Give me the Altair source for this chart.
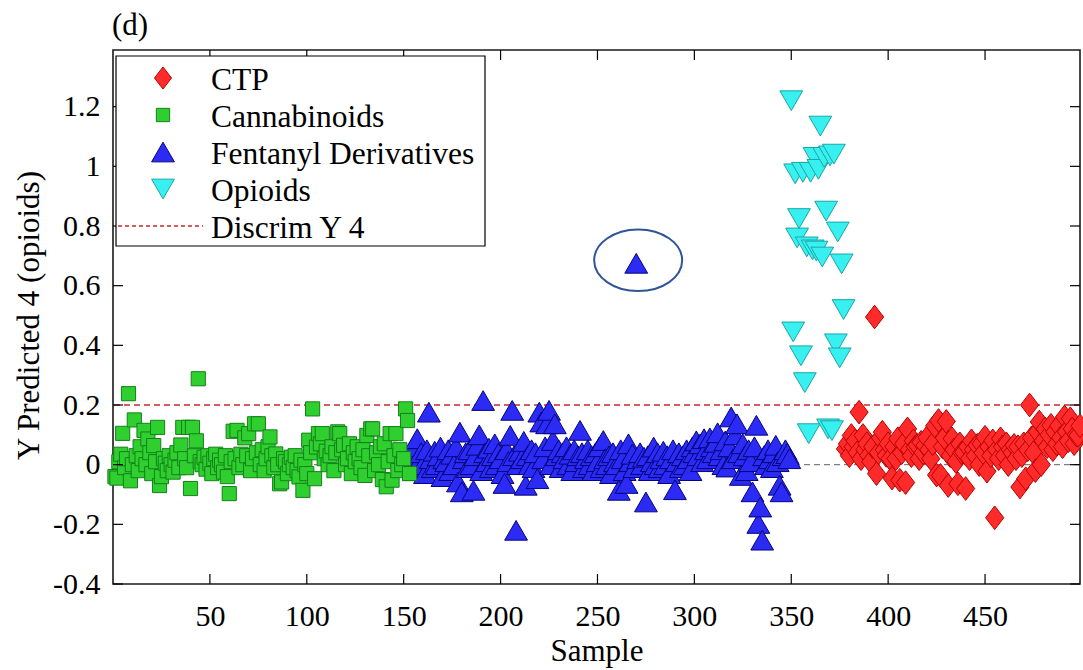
import altair as alt
import pandas as pd

SERIF = "Liberation Serif"

# ---- Y predicted 4 (opioids) per sample, by class block ----
cannabinoid_start = 1
cannabinoid_values = [
    -0.04, -0.045, 0.01, 0.035, 0.105, -0.01, 0.02, 0.238, -0.054, 0.0,
    0.15, 0.03, -0.02, 0.06, 0.02, 0.115, 0.0, 0.086, 0.04, -0.03,
    0.064, 0.01, 0.125, -0.07, -0.04, 0.02, 0.005, -0.02, 0.03, 0.0,
    -0.025, 0.015, 0.04, -0.01, 0.066, 0.125, 0.02, -0.01, 0.125, -0.08,
    0.125, 0.03, 0.08, 0.288, 0.01, 0.0, 0.025, -0.015, 0.03, 0.005,
    -0.03, 0.02, 0.035, -0.01, 0.015, 0.0, -0.025, 0.03, -0.04, -0.097,
    0.01, 0.112, 0.02, 0.115, -0.01, 0.035, 0.0, 0.09, 0.03, 0.104,
    -0.02, 0.02, 0.137, 0.04, 0.137, 0.0, 0.05, -0.02, 0.02, 0.06,
    0.093, 0.03, -0.01, 0.036, 0.0, -0.064, -0.058, 0.02, 0.01, -0.03,
    0.0, 0.025, -0.01, 0.03, -0.02, -0.041, 0.015, -0.086, 0.0, -0.03,
    0.082, 0.04, 0.187, -0.047, 0.059, 0.104, 0.07, 0.104, 0.02, 0.045,
    0.0, 0.03, 0.06, -0.02, 0.04, 0.11, 0.104, 0.05, 0.065, 0.0,
    0.02, 0.07, -0.03, 0.04, 0.01, 0.06, 0.02, -0.01, 0.05, -0.036,
    0.098, 0.03, 0.12, 0.12, -0.02, 0.04, 0.0, 0.06, -0.05, 0.07,
    -0.074, 0.01, 0.104, -0.052, 0.03, 0.104, -0.02, 0.05, 0.0, 0.02,
    0.187, 0.148, -0.03,
]

fentanyl_start = 154
fentanyl_values = [
    0.03, 0.06, -0.02, 0.087, 0.01, 0.04, 0.0, -0.03, 0.05, 0.176,
    0.02, -0.01, 0.045, 0.0, 0.03, 0.059, -0.04, 0.02, 0.01, 0.05,
    -0.02, 0.035, 0.0, 0.06, -0.058, 0.109, -0.091, 0.02, 0.04, -0.01,
    0.05, 0.0, -0.086, 0.03, 0.065, 0.1, -0.02, 0.215, 0.04, 0.01,
    0.055, -0.01, 0.03, 0.07, 0.0, 0.04, 0.02, -0.03, -0.063, 0.05,
    0.01, 0.098, 0.182, 0.03, -0.22, 0.0, 0.045, 0.02, 0.078, -0.069,
    0.03, 0.0, 0.05, -0.01, 0.04, -0.047, 0.176, 0.143, 0.02, 0.06,
    0.137, 0.182, 0.0, 0.081, 0.137, 0.03, 0.05, -0.01, 0.04, 0.02,
    0.06, 0.0, 0.035, -0.02, 0.05, 0.01, 0.03, 0.115, 0.04, -0.01,
    0.02, 0.05, 0.0, 0.03, -0.02, 0.04, 0.01, 0.06, -0.01, 0.081,
    0.02, 0.0, 0.03, -0.03, 0.04, 0.01, 0.0, -0.086, 0.05, 0.02,
    -0.02, -0.063, 0.07, 0.01, 0.035, -0.01, 0.675, 0.02, 0.04, 0.0,
    0.025, -0.125, 0.03, -0.02, 0.01, 0.059, 0.0, 0.04, -0.01, 0.02,
    0.045, 0.0, 0.03, -0.03, 0.02, 0.05, -0.084, 0.01, 0.04, -0.01,
    0.03, 0.0, 0.05, 0.02, -0.02, 0.06, 0.04, 0.08, 0.03, 0.07,
    0.01, 0.087, 0.05, 0.02, 0.09, 0.06, 0.04, 0.075, 0.107, 0.03,
    0.05, 0.0, 0.08, -0.008, 0.06, 0.16, 0.02, 0.1, 0.137, 0.04,
    -0.036, 0.07, 0.03, -0.02, 0.05, 0.01, -0.091, 0.06, 0.132, -0.197,
    -0.142, -0.253, 0.03, 0.0, 0.05, 0.02, -0.01, 0.04, 0.065, 0.01,
    -0.069, -0.091, 0.03, 0.05, 0.037, 0.02,
]

opioid_start = 350
opioid_values = [
    1.22, 0.445, 0.975, 0.76, 0.825, 0.365, 0.98, 0.275, 0.73, 0.104,
    0.98, 0.72, 1.03, 0.716, 0.99, 1.135, 0.696, 1.03, 0.85, 0.12,
    1.035, 0.114, 1.041, 0.405, 0.78, 0.358, 0.673, 0.52,
]

ctp_start = 378
ctp_values = [
    0.053, 0.07, 0.03, 0.098, 0.06, 0.08, 0.04, 0.176, 0.02, 0.098,
    0.05, 0.07, 0.031, 0.01, 0.06, 0.495, -0.03, 0.04, 0.09, 0.109,
    0.05, 0.031, 0.07, 0.02, -0.045, 0.06, 0.02, 0.087, -0.052, 0.04,
    0.07, -0.06, 0.12, 0.05, 0.03, 0.08, 0.06, 0.065, 0.02, 0.075,
    0.04, 0.065, 0.09, 0.05, 0.02, 0.07, 0.13, -0.035, 0.148, -0.036,
    0.06, 0.09, 0.145, -0.07, 0.03, 0.087, 0.05, 0.01, -0.064, 0.07,
    0.04, 0.042, -0.08, 0.06, 0.02, 0.08, 0.05, 0.03, 0.065, 0.0,
    0.07, 0.04, 0.092, -0.022, 0.06, 0.03, 0.08, -0.178, 0.05, 0.02,
    0.087, 0.06, 0.03, 0.07, 0.0, 0.05, 0.04, 0.065, 0.02, 0.06,
    -0.075, 0.03, 0.07, -0.047, 0.05, 0.2, 0.09, 0.04, -0.02, 0.11,
    0.143, 0.0, 0.08, 0.12, 0.06, 0.1, 0.132, 0.05, 0.11, 0.07,
    0.13, 0.09, 0.06, 0.16, 0.11, 0.08, 0.154, 0.12, 0.07, 0.1,
    0.098, 0.13,
]

# Class names (legend order) and marker styling
groups = ["CTP", "Cannabinoids", "Fentanyl Derivatives", "Opioids"]
fill_colors = ["#ff2b2b", "#2fcf2f", "#2b2bf5", "#38f0f0"]
edge_colors = ["#b80000", "#14801a", "#05057a", "#1aa6a6"]
diamond_path = "M0,-1.3L1,0L0,1.3L-1,0Z"
marker_shapes = [diamond_path, "square", "triangle-up", "triangle-down"]
marker_sizes = [330, 200, 520, 520]

# Reference levels
discrim_level = [0.2]
zero_level = [0.0]
discrim_label = "Discrim Y 4"

# Highlighted sample
highlight_sample = [271]
highlight_value = [0.685]

panel_label = "(d)"

x_tick_values = [50, 100, 150, 200, 250, 300, 350, 400, 450]
y_tick_values = [-0.4, -0.2, 0.0, 0.2, 0.4, 0.6, 0.8, 1.0, 1.2]
x_range = [0, 499]
y_range = [-0.4, 1.39]

W, H = 967, 534
TICK_LEN = 10


def block(start, values):
    return pd.DataFrame({
        "sample": list(range(start, start + len(values))),
        "value": values,
    })


blocks = {
    "CTP": block(ctp_start, ctp_values),
    "Cannabinoids": block(cannabinoid_start, cannabinoid_values),
    "Fentanyl Derivatives": block(fentanyl_start, fentanyl_values),
    "Opioids": block(opioid_start, opioid_values),
}

x_scale = alt.Scale(domain=x_range, nice=False, zero=False)
y_scale = alt.Scale(domain=y_range, nice=False, zero=False)

x_axis = alt.Axis(
    values=x_tick_values, title="Sample", ticks=False, domain=False, grid=False,
    labelFont=SERIF, labelFontSize=30, labelColor="black",
    labelBaseline="alphabetic", labelPadding=41, labelOverlap=False, labelFlush=False,
    titleFont=SERIF, titleFontSize=31, titleFontWeight="normal", titleColor="black",
    titleX=W / 2, titleY=76, titleBaseline="alphabetic", titleAlign="center",
)
y_axis = alt.Axis(
    values=y_tick_values, title="Y Predicted 4 (opioids)", ticks=False, domain=False,
    grid=False, labelFont=SERIF, labelFontSize=30, labelColor="black",
    labelPadding=13, labelOverlap=False, labelFlush=False,
    labelExpr="datum.value < 0 ? '-' + format(-datum.value, '~g') : format(datum.value, '~g')",
    titleFont=SERIF, titleFontSize=31, titleFontWeight="normal", titleColor="black",
    titleX=-75, titleY=265, titleAngle=270, titleBaseline="alphabetic", titleAlign="center",
)

x_enc = alt.X("sample:Q", scale=x_scale, axis=x_axis)
y_enc = alt.Y("value:Q", scale=y_scale, axis=y_axis)

# Reference lines
zero_line = alt.Chart(pd.DataFrame({"value": zero_level})).mark_rule(
    color="#7f7f7f", strokeWidth=1.4, strokeDash=[6, 4]
).encode(y=y_enc)

discrim_line = alt.Chart(pd.DataFrame({"value": discrim_level})).mark_rule(
    color="#c8282d", strokeWidth=1.4, strokeDash=[6, 4]
).encode(y=y_enc)

# One scatter layer per class, drawn in this order
draw_order = ["CTP", "Fentanyl Derivatives", "Cannabinoids", "Opioids"]
scatter_layers = []
for g in draw_order:
    i = groups.index(g)
    scatter_layers.append(
        alt.Chart(blocks[g]).mark_point(
            filled=True, opacity=1, strokeWidth=1, shape=marker_shapes[i],
            size=marker_sizes[i], fill=fill_colors[i], stroke=edge_colors[i]
        ).encode(x=x_enc, y=y_enc)
    )

# Ellipse drawn around the highlighted sample
ellipse_path = ("M-1,0C-1,-0.387,-0.552,-0.7,0,-0.7C0.552,-0.7,1,-0.387,1,0"
                "C1,0.387,0.552,0.7,0,0.7C-0.552,0.7,-1,0.387,-1,0Z")
highlight = alt.Chart(pd.DataFrame({"sample": highlight_sample, "value": highlight_value})).mark_point(
    shape=ellipse_path, size=88 * 88, filled=False, stroke="#2f5597", strokeWidth=2, opacity=1
).encode(x=x_enc, y=y_enc)

# Inward tick marks on all four sides of the frame
xt = pd.DataFrame({"sample": x_tick_values})
yt = pd.DataFrame({"value": y_tick_values})
tick_style = dict(color="black", strokeWidth=1.2)
ticks = [
    alt.Chart(xt).mark_rule(**tick_style).encode(x=x_enc, y=alt.value(H), y2=alt.value(H - TICK_LEN)),
    alt.Chart(xt).mark_rule(**tick_style).encode(x=x_enc, y=alt.value(0), y2=alt.value(TICK_LEN)),
    alt.Chart(yt).mark_rule(**tick_style).encode(y=y_enc, x=alt.value(0), x2=alt.value(TICK_LEN)),
    alt.Chart(yt).mark_rule(**tick_style).encode(y=y_enc, x=alt.value(W - TICK_LEN), x2=alt.value(W)),
]

# Legend box in the upper-left corner
LEG_X0, LEG_X1, LEG_Y0, LEG_Y1 = 3, 372, 6, 196
LEG_SYM_X, LEG_TXT_X, LEG_ROW0, LEG_STEP = 50, 98, 28, 37

legend_layers = [
    alt.Chart(pd.DataFrame({"k": [0]})).mark_rect(
        fill="white", stroke="black", strokeWidth=1.2
    ).encode(x=alt.value(LEG_X0), x2=alt.value(LEG_X1), y=alt.value(LEG_Y0), y2=alt.value(LEG_Y1))
]
legend_sizes = [290, 177, 520, 520]
for i, g in enumerate(groups):
    row_y = LEG_ROW0 + i * LEG_STEP
    legend_layers.append(
        alt.Chart(pd.DataFrame({"entry": [g]})).mark_point(
            filled=True, opacity=1, strokeWidth=1, shape=marker_shapes[i],
            size=legend_sizes[i], fill=fill_colors[i], stroke=edge_colors[i]
        ).encode(x=alt.value(LEG_SYM_X), y=alt.value(row_y))
    )
    legend_layers.append(
        alt.Chart(pd.DataFrame({"entry": [g]})).mark_text(
            align="left", baseline="middle", font=SERIF, fontSize=31.5, color="black", dy=3
        ).encode(x=alt.value(LEG_TXT_X), y=alt.value(row_y), text="entry:N")
    )
line_row_y = LEG_ROW0 + len(groups) * LEG_STEP
legend_layers.append(
    alt.Chart(pd.DataFrame({"entry": [discrim_label]})).mark_rule(
        color="#c8282d", strokeWidth=1.3, strokeDash=[4, 3]
    ).encode(x=alt.value(5), x2=alt.value(90), y=alt.value(line_row_y))
)
legend_layers.append(
    alt.Chart(pd.DataFrame({"entry": [discrim_label]})).mark_text(
        align="left", baseline="middle", font=SERIF, fontSize=31.5, color="black", dy=3
    ).encode(x=alt.value(LEG_TXT_X), y=alt.value(line_row_y), text="entry:N")
)

# Panel letter above the frame's top-left corner
panel = alt.Chart(pd.DataFrame({"entry": [panel_label]})).mark_text(
    align="left", baseline="alphabetic", font=SERIF, fontSize=31, color="black"
).encode(x=alt.value(-1), y=alt.value(-15), text="entry:N")

chart = alt.layer(
    zero_line, discrim_line, *scatter_layers, highlight, *ticks, *legend_layers, panel
).properties(
    width=W,
    height=H,
    autosize=alt.AutoSizeParams(type="none"),
    padding={"left": 113, "top": 50, "right": 3, "bottom": 86},
    background="white",
).configure_view(
    stroke="#1a1a1a", strokeWidth=1.6
).configure_axis(
    labelFont=SERIF, titleFont=SERIF
)

chart.save("out.html", embed_options={"renderer": "svg", "actions": False})
